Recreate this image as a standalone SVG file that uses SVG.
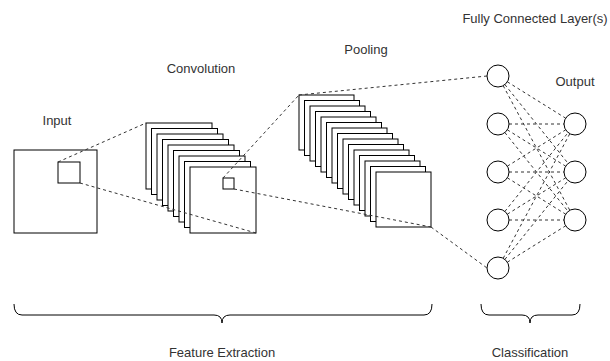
<svg xmlns="http://www.w3.org/2000/svg" width="610" height="361" viewBox="0 0 610 361">
<style>
.lbl{font-family:"Liberation Sans",Arial,sans-serif;font-size:13px;fill:#333;text-anchor:middle}
.sq{fill:#fff;stroke:#000;stroke-width:1}
.dash{fill:none;stroke:#333;stroke-width:1;stroke-dasharray:3 3}
.brace{fill:none;stroke:#000;stroke-width:1}
.nd{fill:#fff;stroke:#000;stroke-width:1}
</style>
<rect width="610" height="361" fill="#fff"/>
<g id="input">
<rect class="sq" x="14" y="150" width="83" height="83"/>
<rect class="sq" x="58" y="162" width="22" height="21"/>
<text class="lbl" x="57" y="125">Input</text>
</g>
<g id="convolution">
<rect class="sq" x="146" y="123" width="66" height="66"/>
<rect class="sq" x="151.5" y="128.5" width="66" height="66"/>
<rect class="sq" x="157" y="134" width="66" height="66"/>
<rect class="sq" x="162.5" y="139.5" width="66" height="66"/>
<rect class="sq" x="168" y="145" width="66" height="66"/>
<rect class="sq" x="173.5" y="150.5" width="66" height="66"/>
<rect class="sq" x="179" y="156" width="66" height="66"/>
<rect class="sq" x="184.5" y="161.5" width="66" height="66"/>
<rect class="sq" x="190" y="167" width="66" height="66"/>
<rect class="sq" x="223" y="178" width="11" height="11"/>
<text class="lbl" x="201" y="73">Convolution</text>
</g>
<g id="pooling">
<rect class="sq" x="299" y="95" width="55" height="55"/>
<rect class="sq" x="304.5" y="100.5" width="55" height="55"/>
<rect class="sq" x="310" y="106" width="55" height="55"/>
<rect class="sq" x="315.5" y="111.5" width="55" height="55"/>
<rect class="sq" x="321" y="117" width="55" height="55"/>
<rect class="sq" x="326.5" y="122.5" width="55" height="55"/>
<rect class="sq" x="332" y="128" width="55" height="55"/>
<rect class="sq" x="337.5" y="133.5" width="55" height="55"/>
<rect class="sq" x="343" y="139" width="55" height="55"/>
<rect class="sq" x="348.5" y="144.5" width="55" height="55"/>
<rect class="sq" x="354" y="150" width="55" height="55"/>
<rect class="sq" x="359.5" y="155.5" width="55" height="55"/>
<rect class="sq" x="365" y="161" width="55" height="55"/>
<rect class="sq" x="370.5" y="166.5" width="55" height="55"/>
<rect class="sq" x="376" y="172" width="55" height="55"/>
<text class="lbl" x="366" y="54">Pooling</text>
</g>
<g id="connectors">
<line class="dash" x1="58" y1="162" x2="146" y2="123"/>
<line class="dash" x1="80" y1="183" x2="256" y2="233"/>
<line class="dash" x1="223" y1="178" x2="299" y2="95"/>
<line class="dash" x1="234" y1="189" x2="431" y2="227"/>
<line class="dash" x1="299" y1="95" x2="487" y2="76"/>
<line class="dash" x1="431" y1="227" x2="487" y2="268"/>
<line class="dash" x1="507.33" y1="81.82" x2="565.67" y2="118.18"/>
<line class="dash" x1="504.88" y1="84.58" x2="568.12" y2="163.42"/>
<line class="dash" x1="503.19" y1="85.70" x2="569.81" y2="210.30"/>
<line class="dash" x1="509" y1="124" x2="564" y2="124"/>
<line class="dash" x1="507.33" y1="129.82" x2="565.67" y2="166.18"/>
<line class="dash" x1="504.88" y1="132.58" x2="568.12" y2="211.42"/>
<line class="dash" x1="507.33" y1="166.18" x2="565.67" y2="129.82"/>
<line class="dash" x1="509" y1="172" x2="564" y2="172"/>
<line class="dash" x1="507.33" y1="177.82" x2="565.67" y2="214.18"/>
<line class="dash" x1="504.88" y1="211.42" x2="568.12" y2="132.58"/>
<line class="dash" x1="507.33" y1="214.18" x2="565.67" y2="177.82"/>
<line class="dash" x1="509" y1="220" x2="564" y2="220"/>
<line class="dash" x1="503.19" y1="258.30" x2="569.81" y2="133.70"/>
<line class="dash" x1="504.88" y1="259.42" x2="568.12" y2="180.58"/>
<line class="dash" x1="507.33" y1="262.18" x2="565.67" y2="225.82"/>
</g>
<g id="fc-layer">
<circle id="fc1" class="nd" cx="498" cy="76" r="11"/>
<circle id="fc2" class="nd" cx="498" cy="124" r="11"/>
<circle id="fc3" class="nd" cx="498" cy="172" r="11"/>
<circle id="fc4" class="nd" cx="498" cy="220" r="11"/>
<circle id="fc5" class="nd" cx="498" cy="268" r="11"/>
<text class="lbl" x="535" y="23">Fully Connected Layer(s)</text>
</g>
<g id="output">
<circle id="out1" class="nd" cx="575" cy="124" r="11"/>
<circle id="out2" class="nd" cx="575" cy="172" r="11"/>
<circle id="out3" class="nd" cx="575" cy="220" r="11"/>
<text class="lbl" x="575" y="86">Output</text>
</g>
<g id="feature-extraction">
<path class="brace" d="M14,304 Q14,315 22,315 L214,315 Q222,315 222,323 Q222,315 230,315 L424,315 Q432,315 432,304"/>
<text class="lbl" x="222" y="357">Feature Extraction</text>
</g>
<g id="classification">
<path class="brace" d="M481,304 Q481,315 489,315 L522,315 Q530,315 530,323 Q530,315 538,315 L572,315 Q580,315 580,304"/>
<text class="lbl" x="530" y="357">Classification</text>
</g>
</svg>
